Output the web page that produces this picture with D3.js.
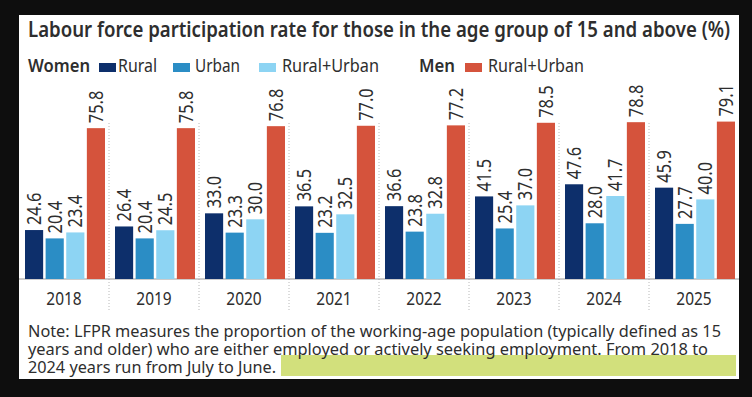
<!DOCTYPE html>
<html>
<meta charset="utf-8">
<head>
  <title>Labour force participation rate</title>
</head>

<style>
body { margin: 0; background: #0e0e0e; }
text {
  font-family: "Noto Sans", "Open Sans", sans-serif;
  fill: #2e2e2e;
}
</style>

<body>
  <svg width="752" height="397"></svg>

  <script src="https://cdnjs.cloudflare.com/ajax/libs/d3/7.8.5/d3.min.js"></script>
  <script>
var years = ['2018', '2019', '2020', '2021', '2022', '2023', '2024', '2025'];
var womenRural = [24.6, 26.4, 33.0, 36.5, 36.6, 41.5, 47.6, 45.9];
var womenUrban = [20.4, 20.4, 23.3, 23.2, 23.8, 25.4, 28.0, 27.7];
var womenTotal = [23.4, 24.5, 30.0, 32.5, 32.8, 37.0, 41.7, 40.0];
var menTotal = [75.8, 75.8, 76.8, 77.0, 77.2, 78.5, 78.8, 79.1];

var seriesKeys = ['wr', 'wu', 'wt', 'mt'];
var seriesValues = { wr: womenRural, wu: womenUrban, wt: womenTotal, mt: menTotal };
var colors = { wr: '#0d2f6b', wu: '#2b8dc5', wt: '#8dd4f3', mt: '#d5533c' };

var noteLines = [
  'Note: LFPR measures the proportion of the working-age population (typically defined as 15',
  'years and older) who are either employed or actively seeking employment. From 2018 to',
  '2024 years run from July to June.'
];

var svg = d3.select('svg');

// white card
svg.append('rect')
  .attr('x', 19).attr('y', 15)
  .attr('width', 720).attr('height', 364)
  .attr('fill', '#fff');

// title
svg.append('text')
  .attr('x', 28).attr('y', 37)
  .attr('font-size', 21)
  .attr('font-weight', 600)
  .attr('textLength', 702)
  .attr('lengthAdjust', 'spacingAndGlyphs')
  .text('Labour force participation rate for those in the age group of 15 and above  (%)');

// legend
var legend = [
  { x: 28, w: 62, text: 'Women', bold: true },
  { x: 99, color: colors.wr },
  { x: 118, w: 39, text: 'Rural' },
  { x: 173, color: colors.wu },
  { x: 195, w: 45, text: 'Urban' },
  { x: 259, color: colors.wt },
  { x: 282, w: 97, text: 'Rural+Urban' },
  { x: 419, w: 36, text: 'Men', bold: true },
  { x: 465, color: colors.mt },
  { x: 488, w: 96, text: 'Rural+Urban' }
];
legend.forEach(function(d) {
  if (d.color) {
    svg.append('rect')
      .attr('x', d.x).attr('y', 63)
      .attr('width', 17).attr('height', 9)
      .attr('fill', d.color);
  } else {
    svg.append('text')
      .attr('x', d.x).attr('y', 72)
      .attr('font-size', 18)
      .attr('font-weight', d.bold ? 600 : 400)
      .attr('textLength', d.w)
      .attr('lengthAdjust', 'spacingAndGlyphs')
      .text(d.text);
  }
});

// scales
var x0 = d3.scaleBand().domain(years).range([19, 739]);
var x1 = d3.scaleBand().domain(seriesKeys).range([6, 86]).paddingInner(0.12);
var y = d3.scaleLinear().domain([0, 100]).range([279, 80]);

// dotted separators
svg.append('g')
  .selectAll('line')
  .data(years.slice(1))
  .enter()
  .append('line')
  .attr('x1', function(d) { return x0(d); })
  .attr('x2', function(d) { return x0(d); })
  .attr('y1', 123).attr('y2', 310)
  .attr('stroke', '#b8b8b8')
  .attr('stroke-width', 1)
  .attr('stroke-dasharray', '1,2');

// baseline
svg.append('line')
  .attr('x1', 19).attr('x2', 739)
  .attr('y1', y(0)).attr('y2', y(0))
  .attr('stroke', '#9a9a9a');

var groups = svg.append('g')
  .selectAll('g')
  .data(years)
  .enter()
  .append('g')
  .attr('transform', function(d) { return 'translate(' + x0(d) + ',0)'; });

var bars = groups.selectAll('g')
  .data(function(d, i) {
    return seriesKeys.map(function(k) { return { key: k, value: seriesValues[k][i] }; });
  })
  .enter()
  .append('g');

bars.append('rect')
  .attr('x', function(d) { return x1(d.key); })
  .attr('y', function(d) { return y(d.value); })
  .attr('width', x1.bandwidth())
  .attr('height', function(d) { return y(0) - y(d.value); })
  .attr('fill', function(d) { return colors[d.key]; });

bars.append('text')
  .attr('transform', function(d) {
    return 'translate(' + (x1(d.key) + x1.bandwidth() / 2 + 7) + ',' + (y(d.value) - 5) + ') rotate(-90) scale(0.82,1)';
  })
  .attr('font-size', 20)
  .text(function(d) { return d.value.toFixed(1); });

// year labels
groups.append('text')
  .attr('transform', 'translate(' + (x0.bandwidth() / 2) + ',305) scale(0.86,1)')
  .attr('text-anchor', 'middle')
  .attr('font-size', 18)
  .text(function(d) { return d; });

// highlight box behind last note line
svg.append('rect')
  .attr('x', 281).attr('y', 355)
  .attr('width', 455).attr('height', 21)
  .attr('fill', '#d2e07c');

// note
var noteWidths = [693, 680, 248];
svg.append('g')
  .selectAll('text')
  .data(noteLines)
  .enter()
  .append('text')
  .attr('x', 28)
  .attr('y', function(d, i) { return 337 + i * 18; })
  .attr('font-size', 17)
  .attr('textLength', function(d, i) { return noteWidths[i]; })
  .attr('lengthAdjust', 'spacingAndGlyphs')
  .attr('fill', '#3a3a3a')
  .text(function(d) { return d; });
  </script>
</body>
</html>
